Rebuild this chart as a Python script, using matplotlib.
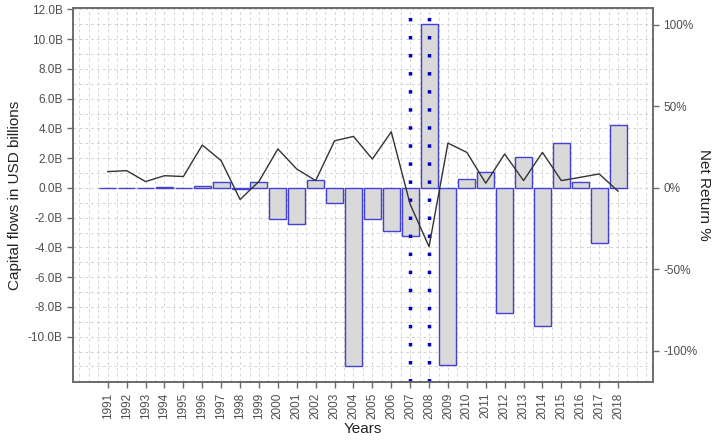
import matplotlib
matplotlib.use("Agg")
import matplotlib.pyplot as plt
import numpy as np

years = list(range(1991, 2019))
capital_flows_b = [0.0, 0.0, 0.0, 0.05, 0.0, 0.15, 0.4, -0.05, 0.4, -2.1,
                   -2.4, 0.55, -1.0, -12.0, -2.1, -2.9, -3.2, 11.0, -11.9, 0.6,
                   1.05, -8.4, 2.1, -9.3, 3.0, 0.42, -3.7, 4.2]
net_return_pct = [10.0, 10.6, 3.9, 7.5, 7.0, 26.3, 16.7, -7.1, 4.0, 23.9,
                  11.6, 4.5, 28.9, 31.6, 17.7, 34.4, -10.0, -36.0, 27.5, 21.8,
                  2.9, 20.8, 4.5, 21.8, 4.5, 6.5, 8.6, -2.0]
crisis_years = [2007, 2008]
left_ticks = [-10, -8, -6, -4, -2, 0, 2, 4, 6, 8, 10, 12]
right_ticks = [-100, -50, 0, 50, 100]

plt.rcParams['font.family'] = ['Liberation Sans', 'DejaVu Sans']

fig = plt.figure(figsize=(7.24, 4.41), dpi=100)
ax = fig.add_axes([73/724, 1-382/441, (653-73)/724, (382-8)/441])
x = np.arange(len(years))

ylo, yhi = -13.05, 12.1
scale = 9.12  # percent per billion on the secondary axis

# grid
for v in np.arange(-13, 13, 1):
    ax.axhline(v, color='#d4d4d4', lw=0.7, ls=(0, (3, 3)), zorder=0)
for v in np.arange(-1.5, 29, 0.5):
    ax.axvline(v, color='#d4d4d4', lw=0.7, ls=(0, (3, 3)), zorder=0)

ax.bar(x, capital_flows_b, width=0.9, color='#d9d9d9', edgecolor='#4242d6',
       linewidth=1.0, zorder=2)

for cy in crisis_years:
    ax.axvline(years.index(cy), color='#0000d0', lw=2.5, ls=(0, (1, 4.2)), zorder=3)

ax.set_xlim(-1.84, 28.85)
ax.set_ylim(ylo, yhi)
ax.set_xticks(x)
ax.set_xticklabels([str(y) for y in years], rotation=90, fontsize=8.5, color='#4d4d4d')
ax.set_yticks(left_ticks)
ax.set_yticklabels([f"{v:.1f}B" for v in left_ticks], fontsize=8.5, color='#4d4d4d')
ax.set_xlabel("Years", fontsize=11, color='#222222', labelpad=2)
ax.set_ylabel("Capital flows in USD billions", fontsize=11, color='#222222')

ax2 = ax.twinx()
ax2.plot(x, net_return_pct, color='#333333', lw=1.0, zorder=4)
ax2.set_ylim(ylo*scale, yhi*scale)
ax2.set_yticks(right_ticks)
ax2.set_yticklabels([f"{v}%" for v in right_ticks], fontsize=8.5, color='#4d4d4d')
ax2.set_ylabel("Net Return %", fontsize=11, color='#222222', rotation=-90, labelpad=10)

for a in (ax, ax2):
    for s in a.spines.values():
        s.set_color('#6b6b6b')
        s.set_linewidth(1.2)
    a.tick_params(colors='#6b6b6b', length=4, width=1.0, labelcolor='#4d4d4d')

fig.savefig("out.png", dpi=100)
